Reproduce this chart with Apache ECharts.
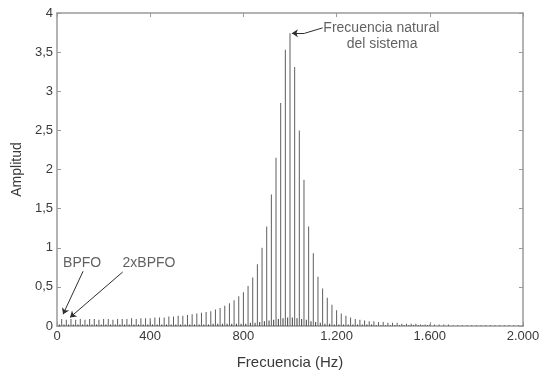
<!DOCTYPE html>
<html>
<head>
<meta charset="utf-8">
<script src="https://cdn.jsdelivr.net/npm/echarts@6/dist/echarts.min.js"></script>
<style>
  html, body { margin: 0; padding: 0; background: #fff; }
  #chart { width: 554px; height: 375px; }
</style>
</head>
<body>
<div id="chart"></div>
<script>
// Harmonic lines of the envelope spectrum (Hz) and their amplitudes
const harmonicFreq = [
  20, 40, 60, 80, 100, 120, 140, 160, 180, 200,
  220, 240, 260, 280, 300, 320, 340, 360, 380, 400,
  420, 440, 460, 480, 500, 520, 540, 560, 580, 600,
  620, 640, 660, 680, 700, 720, 740, 760, 780, 800,
  820, 840, 860, 880, 900, 920, 940, 960, 980, 1000,
  1020, 1040, 1060, 1080, 1100, 1120, 1140, 1160, 1180, 1200,
  1220, 1240, 1260, 1280, 1300, 1320, 1340, 1360, 1380, 1400,
  1420, 1440, 1460, 1480, 1500, 1520, 1540, 1560, 1580, 1600,
  1620, 1640, 1660, 1680, 1700, 1720, 1740, 1760, 1780, 1800,
  1820, 1840, 1860, 1880, 1900, 1920, 1940, 1960, 1980, 2000
];
const harmonicAmp = [
  0.09, 0.08, 0.09, 0.08, 0.09, 0.08, 0.09, 0.09, 0.08, 0.09,
  0.09, 0.08, 0.09, 0.09, 0.09, 0.10, 0.09, 0.10, 0.10, 0.10,
  0.11, 0.11, 0.11, 0.12, 0.12, 0.13, 0.13, 0.14, 0.15, 0.16,
  0.17, 0.18, 0.19, 0.21, 0.23, 0.26, 0.29, 0.33, 0.38, 0.43,
  0.51, 0.62, 0.79, 1.00, 1.27, 1.68, 2.15, 2.85, 3.53, 3.74,
  3.31, 2.50, 1.87, 1.27, 0.93, 0.63, 0.48, 0.36, 0.27, 0.20,
  0.16, 0.13, 0.11, 0.09, 0.08, 0.07, 0.06, 0.06, 0.05, 0.05,
  0.04, 0.04, 0.04, 0.03, 0.03, 0.03, 0.03, 0.02, 0.02, 0.02,
  0.02, 0.02, 0.02, 0.02, 0.01, 0.01, 0.01, 0.01, 0.01, 0.01,
  0.01, 0.01, 0.01, 0.01, 0.01, 0.01, 0.01, 0.01, 0.01, 0.01
];

// Low-level lines between the harmonics (Hz) and their amplitudes
const floorFreq = [
  10, 30, 50, 70, 90, 110, 130, 150, 170, 190,
  210, 230, 250, 270, 290, 310, 330, 350, 370, 390,
  410, 430, 450, 470, 490, 510, 530, 550, 570, 590,
  610, 630, 650, 670, 690, 710, 730, 750, 770, 790,
  810, 830, 850, 870, 890, 910, 930, 950, 970, 990,
  1010, 1030, 1050, 1070, 1090, 1110, 1130, 1150, 1170, 1190,
  1210, 1230, 1250, 1270, 1290, 1310, 1330, 1350, 1370, 1390,
  1410, 1430, 1450, 1470, 1490, 1510, 1530, 1550, 1570, 1590
];
const floorAmp = [
  0.02, 0.02, 0.02, 0.02, 0.02, 0.02, 0.02, 0.02, 0.02, 0.02,
  0.02, 0.02, 0.02, 0.02, 0.02, 0.02, 0.02, 0.02, 0.02, 0.02,
  0.02, 0.02, 0.02, 0.02, 0.02, 0.02, 0.02, 0.02, 0.02, 0.02,
  0.02, 0.02, 0.02, 0.03, 0.03, 0.03, 0.03, 0.03, 0.03, 0.03,
  0.03, 0.04, 0.04, 0.05, 0.06, 0.07, 0.08, 0.09, 0.10, 0.11,
  0.11, 0.10, 0.09, 0.08, 0.06, 0.05, 0.04, 0.03, 0.03, 0.02,
  0.02, 0.02, 0.02, 0.02, 0.02, 0.02, 0.02, 0.02, 0.01, 0.01,
  0.01, 0.01, 0.01, 0.01, 0.01, 0.01, 0.01, 0.01, 0.01, 0.01
];

// Axis ticks
const xTicks = [0, 400, 800, 1200, 1600, 2000];
const xTickLabels = ['0', '400', '800', '1.200', '1.600', '2.000'];
const yTicks = [0, 0.5, 1, 1.5, 2, 2.5, 3, 3.5, 4];
const yTickLabels = ['0', '0,5', '1', '1,5', '2', '2,5', '3', '3,5', '4'];

// Annotations: text anchors and arrow paths in data units [Hz, amplitude]
const annoText = [
  { text: 'BPFO', at: [108, 0.80] },
  { text: '2xBPFO', at: [395, 0.80] },
  { text: 'Frecuencia natural', at: [1392, 3.81] },
  { text: 'del sistema', at: [1395, 3.60] }
];
const bpfoArrow = [[112, 0.70], [26, 0.15]];
const bpfo2Arrow = [[282, 0.69], [56, 0.11]];
const naturalLeader = [[1140, 3.81], [1062, 3.74]];
const naturalArrow = [[1062, 3.74], [1008, 3.74]];

const FONT = '"Liberation Sans", Arial, sans-serif';
const AXIS_GRAY = '#9a9a9a';
const TEXT = '#3a3a3a';

const chart = echarts.init(document.getElementById('chart'), null, { renderer: 'canvas' });

const labelFor = (ticks, labels) => v => {
  const i = ticks.findIndex(t => Math.abs(t - v) < 1e-9);
  return i >= 0 ? labels[i] : '';
};

const baseX = {
  type: 'value', min: 0, max: 2000, interval: 400,
  splitLine: { show: false },
  axisLine: { show: true, onZero: false, lineStyle: { color: AXIS_GRAY, width: 1.5 } },
  axisTick: { show: true, inside: true, length: 4, lineStyle: { color: AXIS_GRAY } }
};
const baseY = {
  type: 'value', min: 0, max: 4, interval: 0.5,
  splitLine: { show: false },
  axisLine: { show: true, onZero: false, lineStyle: { color: AXIS_GRAY, width: 1.5 } },
  axisTick: { show: true, inside: true, length: 4, lineStyle: { color: AXIS_GRAY } }
};

const arrowLine = (pts, startSym, endSym) => [
  { coord: pts[0], symbol: startSym },
  { coord: pts[1], symbol: endSym }
];

chart.setOption({
  animation: false,
  backgroundColor: '#ffffff',
  textStyle: { fontFamily: FONT },
  grid: { left: 57, right: 31, top: 13, bottom: 48 },
  xAxis: [
    Object.assign({}, baseX, {
      position: 'bottom',
      name: 'Frecuencia (Hz)', nameLocation: 'middle', nameGap: 29,
      nameTextStyle: { fontFamily: FONT, fontSize: 15, color: TEXT },
      axisLabel: { margin: 4, fontFamily: FONT, fontSize: 13, color: TEXT, formatter: labelFor(xTicks, xTickLabels) }
    }),
    Object.assign({}, baseX, { position: 'top', axisLabel: { show: false } })
  ],
  yAxis: [
    Object.assign({}, baseY, {
      position: 'left',
      name: 'Amplitud', nameLocation: 'middle', nameGap: 22, nameRotate: 90,
      nameTextStyle: { fontFamily: FONT, fontSize: 14, color: TEXT },
      axisLabel: { margin: 4, fontFamily: FONT, fontSize: 13, color: TEXT, formatter: labelFor(yTicks, yTickLabels) }
    }),
    Object.assign({}, baseY, { position: 'right', axisLabel: { show: false } })
  ],
  series: [
    {
      name: 'floor', type: 'bar', xAxisIndex: 0, yAxisIndex: 0,
      barWidth: 1, barGap: '-100%',
      itemStyle: { color: '#3c3c3c' },
      data: floorFreq.map((f, i) => [f, floorAmp[i]])
    },
    {
      name: 'harmonics', type: 'bar', xAxisIndex: 0, yAxisIndex: 0,
      barWidth: 1, barGap: '-100%',
      itemStyle: { color: '#5e5e5e' },
      data: harmonicFreq.map((f, i) => [f, harmonicAmp[i]]),
      markLine: {
        silent: true, animation: false,
        symbolSize: 6,
        label: { show: false },
        lineStyle: { color: '#2e2e2e', width: 1, type: 'solid' },
        data: [
          arrowLine(bpfoArrow, 'none', 'arrow'),
          arrowLine(bpfo2Arrow, 'none', 'arrow'),
          arrowLine(naturalLeader, 'none', 'none'),
          arrowLine(naturalArrow, 'none', 'arrow')
        ]
      }
    },
    {
      name: 'notes', type: 'scatter', xAxisIndex: 0, yAxisIndex: 0,
      symbolSize: 0, silent: true,
      label: {
        show: true, position: 'inside',
        fontFamily: FONT, fontSize: 14, color: TEXT,
        formatter: p => p.data.label
      },
      data: annoText.map(a => ({ value: a.at, label: a.text }))
    }
  ]
});
</script>
</body>
</html>
